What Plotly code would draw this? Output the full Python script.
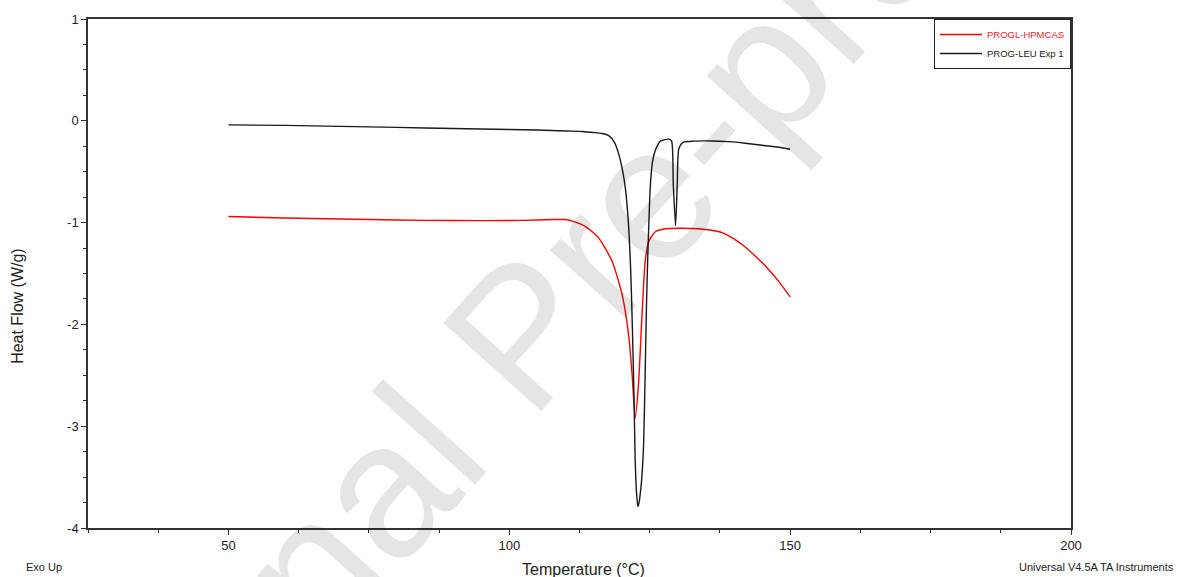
import plotly.graph_objects as go

# PROGL-HPMCAS (red)
red_T = [50, 60, 70, 80, 90, 100, 105, 108, 110, 111.5, 113.6, 115.9, 118.3, 120.1,
         121.3, 121.9, 122.4, 123.0, 123.6, 124.2, 124.8, 126.0, 127.8, 130.5, 133.7,
         136.0, 138.0, 140.0, 142.0, 144.0, 146.0, 148.0, 150.0]
red_HF = [-0.94, -0.955, -0.965, -0.975, -0.98, -0.98, -0.975, -0.97, -0.97, -0.99,
          -1.04, -1.15, -1.38, -1.71, -2.13, -2.52, -2.92, -2.59, -1.94, -1.38, -1.19,
          -1.09, -1.06, -1.055, -1.06, -1.075, -1.10, -1.16, -1.24, -1.34, -1.45, -1.58, -1.73]

# PROG-LEU Exp 1 (black)
blk_T = [50, 60, 70, 80, 90, 100, 105, 110, 113, 115, 116.5, 117.7, 118.7, 119.5, 120.2,
         120.7, 121.2, 121.6, 121.9, 122.2, 122.4, 122.65, 122.9, 123.1, 123.4, 123.6,
         123.9, 124.2, 124.45, 124.7, 125.1, 125.5, 126.0, 126.9, 128.4, 128.9, 129.2,
         129.6, 129.9, 130.2, 131.0, 133.0, 136.0, 139.0, 142.0, 145.0, 148.0, 150.0]
blk_HF = [-0.04, -0.045, -0.055, -0.065, -0.075, -0.085, -0.09, -0.10, -0.105, -0.115,
          -0.125, -0.145, -0.21, -0.33, -0.50, -0.68, -1.00, -1.45, -2.00, -2.70, -3.30,
          -3.65, -3.79, -3.75, -3.62, -3.50, -3.20, -2.45, -1.75, -1.25, -0.65, -0.40,
          -0.29, -0.20, -0.18, -0.20, -0.63, -1.03, -0.63, -0.27, -0.21, -0.20, -0.198,
          -0.205, -0.22, -0.24, -0.26, -0.28]

x_ticks = [50, 100, 150, 200]
x_labels = ["50", "100", "150", "200"]
y_ticks = [1, 0, -1, -2, -3, -4]
y_labels = ["1", "0", "-1", "-2", "-3", "-4"]

FONT = "Liberation Sans, Arial, sans-serif"

fig = go.Figure()
fig.add_trace(go.Scatter(x=red_T, y=red_HF, mode="lines",
                         name="<span style='color:#ff2020'>PROGL-HPMCAS</span>",
                         line=dict(color="#ff0000", width=1.4, shape="spline", smoothing=0.6)))
fig.add_trace(go.Scatter(x=blk_T, y=blk_HF, mode="lines",
                         name="<span style='color:#222222'>PROG-LEU Exp 1</span>",
                         line=dict(color="#1a1a1a", width=1.4, shape="spline", smoothing=0.6)))

axis_common = dict(showgrid=False, zeroline=False, showline=True, linecolor="#333333",
                   linewidth=1.5, mirror=True, ticks="outside", ticklen=5, tickwidth=1.2,
                   tickcolor="#333333", tickfont=dict(family=FONT, size=13, color="#222222"))

fig.update_xaxes(range=[25, 200], tickvals=x_ticks, ticktext=x_labels,
                 minor=dict(ticks="outside", ticklen=3, tickwidth=1, tickcolor="#333333",
                            tick0=0, dtick=12.5),
                 **axis_common)
fig.update_yaxes(range=[-4, 1], tickvals=y_ticks, ticktext=y_labels,
                 minor=dict(ticks="outside", ticklen=3, tickwidth=1, tickcolor="#333333",
                            tick0=0, dtick=0.25),
                 **axis_common)

W, H = 1177, 577
L, R, T, B = 88, 106, 17, 49
pw, ph = W - L - R, H - T - B

def px(xp):
    return (xp - L) / pw

def py(yp):
    return (H - B - yp) / ph

annotations = [
    dict(text="Temperature (°C)", x=px(583), y=py(570), xref="paper", yref="paper",
         showarrow=False, font=dict(family=FONT, size=16, color="#222222"),
         xanchor="center", yanchor="middle"),
    dict(text="Heat Flow (W/g)", x=px(18), y=py(305), xref="paper", yref="paper",
         showarrow=False, textangle=-90, font=dict(family=FONT, size=16, color="#222222"),
         xanchor="center", yanchor="middle"),
    dict(text="Exo Up", x=px(24), y=py(567), xref="paper", yref="paper",
         showarrow=False, font=dict(family=FONT, size=11, color="#222222"),
         xanchor="left", yanchor="middle"),
    dict(text="Universal V4.5A TA Instruments", x=px(1176), y=py(567), xref="paper",
         yref="paper", showarrow=False, font=dict(family=FONT, size=11, color="#222222"),
         xanchor="right", yanchor="middle"),
    dict(text="Journal Pre-proof", x=px(521), y=py(334), xref="paper", yref="paper",
         showarrow=False, textangle=-48,
         font=dict(family=FONT, size=192, color="rgba(0,0,0,0.1)"),
         xanchor="center", yanchor="middle"),
]

fig.update_layout(
    width=W, height=H,
    margin=dict(l=L, r=R, t=T, b=B),
    paper_bgcolor="white", plot_bgcolor="white",
    showlegend=True,
    legend=dict(x=1, y=1, xanchor="right", yanchor="top", bgcolor="rgba(255,255,255,0)",
                bordercolor="#222222", borderwidth=1,
                font=dict(family=FONT, size=9.5, color="#222222"),
                itemwidth=42, tracegroupgap=0),
    annotations=annotations,
)

fig.write_html("out.html")
